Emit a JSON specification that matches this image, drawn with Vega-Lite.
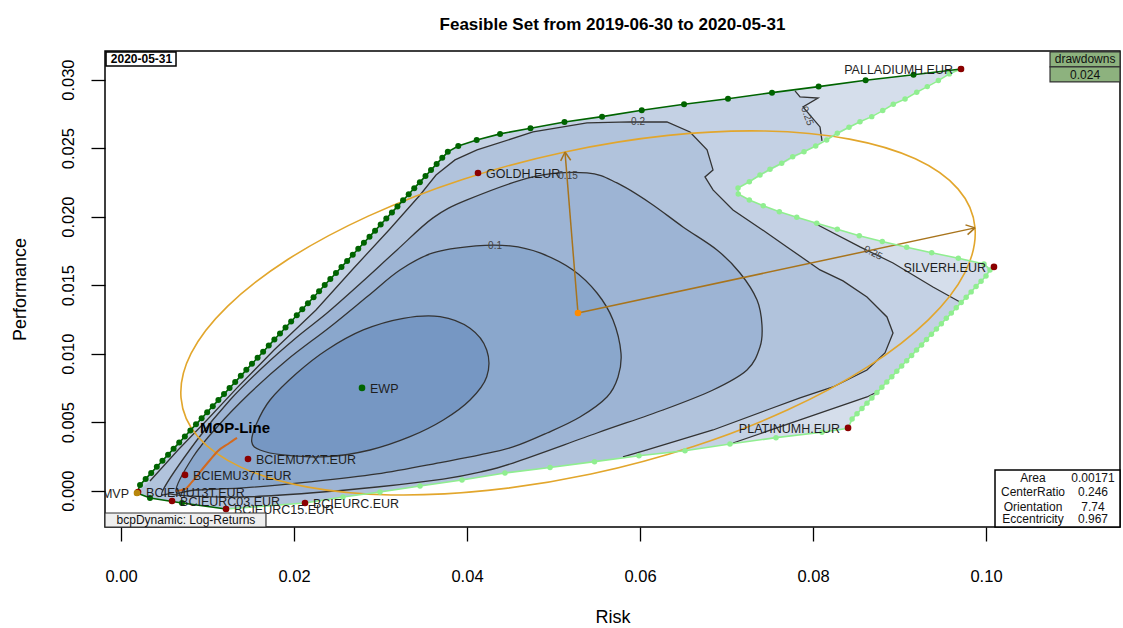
{
"$schema":"https://vega.github.io/schema/vega-lite/v6.json",
"width":1015,"height":476,
"autosize":{"type":"none"},
"padding":{"left":105,"top":51,"right":3,"bottom":101},
"background":"white",
"title":{"text":"Feasible Set from 2019-06-30 to 2020-05-31","font":"Liberation Sans","fontSize":17,"fontWeight":"bold","color":"#000","anchor":"middle","frame":"group","offset":17},
"config":{"view":{"stroke":"#000","strokeWidth":1.5},"font":"Liberation Sans"},
"datasets":{
"feas":[{"x":0.00185,"y":-0.00017},{"x":0.00220,"y":0.00042},{"x":0.03777,"y":0.02470},{"x":0.03899,"y":0.02516},{"x":0.04112,"y":0.02560},{"x":0.04382,"y":0.02604},{"x":0.04734,"y":0.02645},{"x":0.05127,"y":0.02691},{"x":0.05561,"y":0.02730},{"x":0.06020,"y":0.02777},{"x":0.06509,"y":0.02820},{"x":0.07017,"y":0.02861},{"x":0.07526,"y":0.02905},{"x":0.08065,"y":0.02949},{"x":0.08608,"y":0.02996},{"x":0.09162,"y":0.03036},{"x":0.09711,"y":0.03078},{"x":0.09576,"y":0.03042},{"x":0.07133,"y":0.02209},{"x":0.07136,"y":0.02166},{"x":0.07264,"y":0.02122},{"x":0.07425,"y":0.02080},{"x":0.07611,"y":0.02036},{"x":0.07812,"y":0.01996},{"x":0.08043,"y":0.01952},{"x":0.08281,"y":0.01908},{"x":0.08535,"y":0.01861},{"x":0.08801,"y":0.01818},{"x":0.09083,"y":0.01777},{"x":0.09372,"y":0.01737},{"x":0.09680,"y":0.01696},{"x":0.09977,"y":0.01655},{"x":0.10069,"y":0.01618},{"x":0.10000,"y":0.01567},{"x":0.08452,"y":0.00523},{"x":0.08405,"y":0.00455},{"x":0.08104,"y":0.00426},{"x":0.07572,"y":0.00387},{"x":0.07040,"y":0.00341},{"x":0.06520,"y":0.00292},{"x":0.05988,"y":0.00255},{"x":0.05474,"y":0.00212},{"x":0.04960,"y":0.00169},{"x":0.04439,"y":0.00129},{"x":0.03942,"y":0.00078},{"x":0.03457,"y":0.00034},{"x":0.02994,"y":-0.00009},{"x":0.02566,"y":-0.00046},{"x":0.02127,"y":-0.00090},{"x":0.01214,"y":-0.00134},{"x":0.00705,"y":-0.00090},{"x":0.00335,"y":-0.00053}],
"c25":[{"x":0.00185,"y":-0.00017},{"x":0.00220,"y":0.00042},{"x":0.03777,"y":0.02470},{"x":0.03899,"y":0.02516},{"x":0.04112,"y":0.02560},{"x":0.04382,"y":0.02604},{"x":0.04734,"y":0.02645},{"x":0.05127,"y":0.02691},{"x":0.05561,"y":0.02730},{"x":0.06020,"y":0.02777},{"x":0.06509,"y":0.02820},{"x":0.07017,"y":0.02861},{"x":0.07526,"y":0.02905},{"x":0.07792,"y":0.02918},{"x":0.07850,"y":0.02874},{"x":0.08058,"y":0.02866},{"x":0.07884,"y":0.02801},{"x":0.08081,"y":0.02655},{"x":0.08104,"y":0.02553},{"x":0.08031,"y":0.02516},{"x":0.07896,"y":0.02474},{"x":0.07765,"y":0.02438},{"x":0.07638,"y":0.02390},{"x":0.07503,"y":0.02346},{"x":0.07387,"y":0.02304},{"x":0.07264,"y":0.02255},{"x":0.07133,"y":0.02209},{"x":0.07136,"y":0.02166},{"x":0.07264,"y":0.02122},{"x":0.07425,"y":0.02080},{"x":0.07611,"y":0.02036},{"x":0.07812,"y":0.01996},{"x":0.08012,"y":0.01954},{"x":0.08543,"y":0.01779},{"x":0.08925,"y":0.01662},{"x":0.09387,"y":0.01487},{"x":0.09699,"y":0.01377},{"x":0.08740,"y":0.00720},{"x":0.08624,"y":0.00684},{"x":0.07850,"y":0.00516},{"x":0.07075,"y":0.00348},{"x":0.06520,"y":0.00292},{"x":0.05988,"y":0.00255},{"x":0.05474,"y":0.00212},{"x":0.04960,"y":0.00169},{"x":0.04439,"y":0.00129},{"x":0.03942,"y":0.00078},{"x":0.03457,"y":0.00034},{"x":0.02994,"y":-0.00009},{"x":0.02566,"y":-0.00046},{"x":0.02127,"y":-0.00090},{"x":0.01214,"y":-0.00134},{"x":0.00705,"y":-0.00090},{"x":0.00335,"y":-0.00053}],
"c20":[{"x":0.00185,"y":-0.00017},{"x":0.00335,"y":0.00071},{"x":0.00659,"y":0.00297},{"x":0.00994,"y":0.00516},{"x":0.01341,"y":0.00750},{"x":0.01769,"y":0.01027},{"x":0.02254,"y":0.01319},{"x":0.02671,"y":0.01611},{"x":0.03098,"y":0.01903},{"x":0.03457,"y":0.02158},{"x":0.03642,"y":0.02304},{"x":0.03861,"y":0.02414},{"x":0.04116,"y":0.02487},{"x":0.04763,"y":0.02618},{"x":0.05387,"y":0.02684},{"x":0.05884,"y":0.02691},{"x":0.06312,"y":0.02691},{"x":0.06578,"y":0.02618},{"x":0.06775,"y":0.02487},{"x":0.06844,"y":0.02341},{"x":0.06751,"y":0.02290},{"x":0.06844,"y":0.02195},{"x":0.07075,"y":0.02049},{"x":0.07468,"y":0.01881},{"x":0.07699,"y":0.01779},{"x":0.08081,"y":0.01611},{"x":0.08347,"y":0.01531},{"x":0.08624,"y":0.01414},{"x":0.08855,"y":0.01268},{"x":0.08925,"y":0.01151},{"x":0.08832,"y":0.01005},{"x":0.08624,"y":0.00881},{"x":0.08231,"y":0.00757},{"x":0.07850,"y":0.00677},{"x":0.07468,"y":0.00589},{"x":0.06844,"y":0.00443},{"x":0.06081,"y":0.00297},{"x":0.05803,"y":0.00246},{"x":0.05474,"y":0.00212},{"x":0.04960,"y":0.00169},{"x":0.04439,"y":0.00129},{"x":0.03942,"y":0.00078},{"x":0.03457,"y":0.00034},{"x":0.02994,"y":-0.00009},{"x":0.02566,"y":-0.00046},{"x":0.02127,"y":-0.00090},{"x":0.01214,"y":-0.00134},{"x":0.00705,"y":-0.00090},{"x":0.00335,"y":-0.00053}],
"c15":[{"x":0.00486,"y":0.00005},{"x":0.00879,"y":0.00370},{"x":0.01260,"y":0.00662},{"x":0.01642,"y":0.00903},{"x":0.02035,"y":0.01122},{"x":0.02382,"y":0.01297},{"x":0.02786,"y":0.01523},{"x":0.03191,"y":0.01757},{"x":0.03607,"y":0.01991},{"x":0.04000,"y":0.02122},{"x":0.04763,"y":0.02290},{"x":0.05387,"y":0.02319},{"x":0.05734,"y":0.02246},{"x":0.06116,"y":0.02100},{"x":0.06497,"y":0.01925},{"x":0.06890,"y":0.01757},{"x":0.07156,"y":0.01589},{"x":0.07353,"y":0.01392},{"x":0.07410,"y":0.01209},{"x":0.07387,"y":0.01049},{"x":0.07237,"y":0.00881},{"x":0.06844,"y":0.00735},{"x":0.06266,"y":0.00589},{"x":0.05503,"y":0.00421},{"x":0.04532,"y":0.00202},{"x":0.04150,"y":0.00136},{"x":0.03723,"y":0.00085},{"x":0.02960,"y":0.00027},{"x":0.02185,"y":-0.00017},{"x":0.01410,"y":-0.00046},{"x":0.00798,"y":-0.00039},{"x":0.00566,"y":-0.00024}],
"c10":[{"x":0.00636,"y":-0.00002},{"x":0.00832,"y":0.00246},{"x":0.01110,"y":0.00465},{"x":0.01491,"y":0.00713},{"x":0.01919,"y":0.00954},{"x":0.02416,"y":0.01195},{"x":0.02855,"y":0.01421},{"x":0.03225,"y":0.01611},{"x":0.03607,"y":0.01735},{"x":0.04104,"y":0.01786},{"x":0.04497,"y":0.01786},{"x":0.04844,"y":0.01735},{"x":0.05225,"y":0.01611},{"x":0.05503,"y":0.01443},{"x":0.05688,"y":0.01246},{"x":0.05780,"y":0.01005},{"x":0.05746,"y":0.00830},{"x":0.05618,"y":0.00684},{"x":0.05306,"y":0.00538},{"x":0.04925,"y":0.00421},{"x":0.04532,"y":0.00319},{"x":0.04150,"y":0.00261},{"x":0.03723,"y":0.00209},{"x":0.02960,"y":0.00122},{"x":0.02185,"y":0.00064},{"x":0.01410,"y":0.00020},{"x":0.00855,"y":0.00005}],
"c05":[{"x":0.01511,"y":0.00358},{"x":0.01569,"y":0.00492},{"x":0.01723,"y":0.00662},{"x":0.02031,"y":0.00857},{"x":0.02378,"y":0.01027},{"x":0.02801,"y":0.01173},{"x":0.03264,"y":0.01258},{"x":0.03688,"y":0.01270},{"x":0.04035,"y":0.01185},{"x":0.04228,"y":0.01027},{"x":0.04228,"y":0.00832},{"x":0.04035,"y":0.00662},{"x":0.03726,"y":0.00516},{"x":0.03341,"y":0.00394},{"x":0.02879,"y":0.00297},{"x":0.02378,"y":0.00248},{"x":0.01876,"y":0.00261},{"x":0.01607,"y":0.00297}],
"clines":[{"g":"a","x":0.07792,"y":0.02918},{"g":"a","x":0.07850,"y":0.02874},{"g":"a","x":0.08058,"y":0.02866},{"g":"a","x":0.07884,"y":0.02801},{"g":"a","x":0.08081,"y":0.02655},{"g":"a","x":0.08104,"y":0.02553},
{"g":"b","x":0.08012,"y":0.01954},{"g":"b","x":0.08543,"y":0.01779},{"g":"b","x":0.08925,"y":0.01662},{"g":"b","x":0.09387,"y":0.01487},{"g":"b","x":0.09699,"y":0.01377},
{"g":"c","x":0.07075,"y":0.00348},{"g":"c","x":0.07850,"y":0.00516},{"g":"c","x":0.08624,"y":0.00684},{"g":"c","x":0.08740,"y":0.00720},
{"g":"d","x":0.00335,"y":0.00071},{"g":"d","x":0.00659,"y":0.00297},{"g":"d","x":0.00994,"y":0.00516},{"g":"d","x":0.01341,"y":0.00750},{"g":"d","x":0.01769,"y":0.01027},{"g":"d","x":0.02254,"y":0.01319},{"g":"d","x":0.02671,"y":0.01611},{"g":"d","x":0.03098,"y":0.01903},{"g":"d","x":0.03457,"y":0.02158},{"g":"d","x":0.03642,"y":0.02304},{"g":"d","x":0.03861,"y":0.02414},{"g":"d","x":0.04116,"y":0.02487},{"g":"d","x":0.04763,"y":0.02618},{"g":"d","x":0.05387,"y":0.02684},{"g":"d","x":0.05884,"y":0.02691},{"g":"d","x":0.06312,"y":0.02691},{"g":"d","x":0.06578,"y":0.02618},{"g":"d","x":0.06775,"y":0.02487},{"g":"d","x":0.06844,"y":0.02341},{"g":"d","x":0.06751,"y":0.02290},{"g":"d","x":0.06844,"y":0.02195},{"g":"d","x":0.07075,"y":0.02049},{"g":"d","x":0.07468,"y":0.01881},{"g":"d","x":0.07699,"y":0.01779},{"g":"d","x":0.08081,"y":0.01611},{"g":"d","x":0.08347,"y":0.01531},{"g":"d","x":0.08624,"y":0.01414},{"g":"d","x":0.08855,"y":0.01268},{"g":"d","x":0.08925,"y":0.01151},{"g":"d","x":0.08832,"y":0.01005},{"g":"d","x":0.08624,"y":0.00881},{"g":"d","x":0.08231,"y":0.00757},{"g":"d","x":0.07850,"y":0.00677},{"g":"d","x":0.07468,"y":0.00589},{"g":"d","x":0.06844,"y":0.00443},{"g":"d","x":0.06081,"y":0.00297},{"g":"d","x":0.05803,"y":0.00246}],
"ell":[{"x":0.09873,"y":0.01918},{"x":0.09678,"y":0.02201},{"x":0.09183,"y":0.02422},{"x":0.08422,"y":0.02566},{"x":0.07447,"y":0.02625},{"x":0.06326,"y":0.02593},{"x":0.05133,"y":0.02472},{"x":0.03949,"y":0.02272},{"x":0.02858,"y":0.02004},{"x":0.01932,"y":0.01689},{"x":0.01234,"y":0.01347},{"x":0.00810,"y":0.01002},{"x":0.00694,"y":0.00677},{"x":0.00889,"y":0.00393},{"x":0.01384,"y":0.00172},{"x":0.02145,"y":0.00028},{"x":0.03119,"y":-0.00031},{"x":0.04240,"y":0.00002},{"x":0.05434,"y":0.00122},{"x":0.06617,"y":0.00323},{"x":0.07709,"y":0.00590},{"x":0.08635,"y":0.00905},{"x":0.09333,"y":0.01247},{"x":0.09756,"y":0.01592}],
"arr":[{"x":0.05283,"y":0.01297,"x2":0.09873,"y2":0.01918},{"x":0.05283,"y":0.01297,"x2":0.05133,"y2":0.02472},{"x":0.09873,"y":0.01918,"x2":0.09763,"y2":0.01940},{"x":0.09873,"y":0.01918,"x2":0.09787,"y2":0.01869},{"x":0.05133,"y":0.02472,"x2":0.05083,"y2":0.02407},{"x":0.05133,"y":0.02472,"x2":0.05199,"y2":0.02412}],
"mop":[{"x":0.00636,"y":-0.00002},{"x":0.00740,"y":0.00012},{"x":0.00821,"y":0.00064},{"x":0.00913,"y":0.00136},{"x":0.01029,"y":0.00224},{"x":0.01121,"y":0.00290},{"x":0.01237,"y":0.00341},{"x":0.01341,"y":0.00385}],
"lg":[{"x":0.09711,"y":0.03078},{"x":0.09576,"y":0.03042},{"x":0.09449,"y":0.02993},{"x":0.09321,"y":0.02949},{"x":0.09199,"y":0.02908},{"x":0.09064,"y":0.02859},{"x":0.08928,"y":0.02820},{"x":0.08806,"y":0.02774},{"x":0.08679,"y":0.02730},{"x":0.08543,"y":0.02693},{"x":0.08416,"y":0.02653},{"x":0.08281,"y":0.02609},{"x":0.08158,"y":0.02560},{"x":0.08031,"y":0.02516},{"x":0.07896,"y":0.02474},{"x":0.07765,"y":0.02438},{"x":0.07638,"y":0.02390},{"x":0.07503,"y":0.02346},{"x":0.07387,"y":0.02304},{"x":0.07264,"y":0.02255},{"x":0.07133,"y":0.02209},
{"x":0.07136,"y":0.02166},{"x":0.07264,"y":0.02122},{"x":0.07425,"y":0.02080},{"x":0.07611,"y":0.02036},{"x":0.07812,"y":0.01996},{"x":0.08043,"y":0.01952},{"x":0.08281,"y":0.01908},{"x":0.08535,"y":0.01861},{"x":0.08801,"y":0.01818},{"x":0.09083,"y":0.01777},{"x":0.09372,"y":0.01737},{"x":0.09680,"y":0.01696},{"x":0.09977,"y":0.01655},{"x":0.10046,"y":0.01611},
{"x":0.10000,"y":0.01567},{"x":0.09943,"y":0.01529},{"x":0.09885,"y":0.01490},{"x":0.09828,"y":0.01451},{"x":0.09771,"y":0.01412},{"x":0.09713,"y":0.01374},{"x":0.09656,"y":0.01335},{"x":0.09599,"y":0.01296},{"x":0.09541,"y":0.01258},{"x":0.09484,"y":0.01219},{"x":0.09427,"y":0.01180},{"x":0.09369,"y":0.01142},{"x":0.09312,"y":0.01103},{"x":0.09255,"y":0.01064},{"x":0.09197,"y":0.01026},{"x":0.09140,"y":0.00987},{"x":0.09083,"y":0.00948},{"x":0.09025,"y":0.00910},{"x":0.08968,"y":0.00871},{"x":0.08911,"y":0.00832},{"x":0.08853,"y":0.00793},{"x":0.08796,"y":0.00755},{"x":0.08739,"y":0.00716},{"x":0.08681,"y":0.00677},{"x":0.08624,"y":0.00639},{"x":0.08566,"y":0.00600},{"x":0.08509,"y":0.00561},{"x":0.08452,"y":0.00523},
{"x":0.08405,"y":0.00455},{"x":0.08104,"y":0.00426},{"x":0.07572,"y":0.00387},{"x":0.07040,"y":0.00341},{"x":0.06520,"y":0.00292},{"x":0.05988,"y":0.00255},{"x":0.05474,"y":0.00212},{"x":0.04960,"y":0.00169},{"x":0.04439,"y":0.00129},{"x":0.03942,"y":0.00078},{"x":0.03457,"y":0.00034},{"x":0.02994,"y":-0.00009},{"x":0.02566,"y":-0.00046},{"x":0.02127,"y":-0.00090},{"x":0.01214,"y":-0.00134}],
"dg":[{"x":0.01214,"y":-0.00134},{"x":0.00705,"y":-0.00090},{"x":0.00335,"y":-0.00053},{"x":0.00185,"y":-0.00017},
{"x":0.00220,"y":0.00042},{"x":0.00285,"y":0.00086},{"x":0.00349,"y":0.00130},{"x":0.00414,"y":0.00175},{"x":0.00479,"y":0.00219},{"x":0.00544,"y":0.00263},{"x":0.00608,"y":0.00307},{"x":0.00673,"y":0.00351},{"x":0.00738,"y":0.00396},{"x":0.00802,"y":0.00440},{"x":0.00867,"y":0.00484},{"x":0.00932,"y":0.00528},{"x":0.00996,"y":0.00572},{"x":0.01061,"y":0.00617},{"x":0.01126,"y":0.00661},{"x":0.01191,"y":0.00705},{"x":0.01255,"y":0.00749},{"x":0.01320,"y":0.00793},{"x":0.01385,"y":0.00838},{"x":0.01449,"y":0.00882},{"x":0.01514,"y":0.00926},{"x":0.01579,"y":0.00970},{"x":0.01643,"y":0.01014},{"x":0.01708,"y":0.01059},{"x":0.01773,"y":0.01103},{"x":0.01838,"y":0.01147},{"x":0.01902,"y":0.01191},{"x":0.01967,"y":0.01235},{"x":0.02032,"y":0.01280},{"x":0.02096,"y":0.01324},{"x":0.02161,"y":0.01368},{"x":0.02226,"y":0.01412},{"x":0.02290,"y":0.01456},{"x":0.02355,"y":0.01501},{"x":0.02420,"y":0.01545},{"x":0.02485,"y":0.01589},{"x":0.02549,"y":0.01633},{"x":0.02614,"y":0.01677},{"x":0.02679,"y":0.01722},{"x":0.02743,"y":0.01766},{"x":0.02808,"y":0.01810},{"x":0.02873,"y":0.01854},{"x":0.02937,"y":0.01898},{"x":0.03002,"y":0.01943},{"x":0.03067,"y":0.01987},{"x":0.03132,"y":0.02031},{"x":0.03196,"y":0.02075},{"x":0.03261,"y":0.02119},{"x":0.03326,"y":0.02164},{"x":0.03390,"y":0.02208},{"x":0.03455,"y":0.02252},{"x":0.03520,"y":0.02296},{"x":0.03584,"y":0.02340},{"x":0.03649,"y":0.02385},{"x":0.03714,"y":0.02429},{"x":0.03778,"y":0.02473},
{"x":0.03899,"y":0.02516},{"x":0.04112,"y":0.02560},{"x":0.04382,"y":0.02604},{"x":0.04734,"y":0.02645},{"x":0.05127,"y":0.02691},{"x":0.05561,"y":0.02730},{"x":0.06020,"y":0.02777},{"x":0.06509,"y":0.02820},{"x":0.07017,"y":0.02861},{"x":0.07526,"y":0.02905},{"x":0.08065,"y":0.02949},{"x":0.08608,"y":0.02996},{"x":0.09162,"y":0.03036},{"x":0.09711,"y":0.03078}],
"pts":[{"name":"BCIEMU13T.EUR","kind":"asset","x":0.00197,"y":-0.00010},{"name":"PALLADIUMH.EUR","kind":"asset","x":0.09711,"y":0.03078},{"name":"SILVERH.EUR","kind":"asset","x":0.10092,"y":0.01633},{"name":"PLATINUMH.EUR","kind":"asset","x":0.08405,"y":0.00458},{"name":"GOLDH.EUR","kind":"asset","x":0.04127,"y":0.02319},{"name":"BCIEMU7XT.EUR","kind":"asset","x":0.01468,"y":0.00231},{"name":"BCIEMU37T.EUR","kind":"asset","x":0.00740,"y":0.00115},{"name":"BCIEURC03.EUR","kind":"asset","x":0.00590,"y":-0.00075},{"name":"BCIEURC15.EUR","kind":"asset","x":0.01214,"y":-0.00134},{"name":"BCIEURC.EUR","kind":"asset","x":0.02127,"y":-0.00090},{"name":"EWP","kind":"ewp","x":0.02786,"y":0.00750},{"name":"MVP","kind":"mvp","x":0.00185,"y":-0.00017},{"name":"center","kind":"center","x":0.05283,"y":0.01297}],
"boxes":[{"b":"date","x":-0.00173,"x2":0.00636,"y":0.03202,"y2":0.03100},{"b":"dd1","x":0.10740,"x2":0.11549,"y":0.03202,"y2":0.03093},{"b":"dd2","x":0.10740,"x2":0.11549,"y":0.03093,"y2":0.02983},{"b":"src","x":-0.00185,"x2":0.01676,"y":-0.00163,"y2":-0.00265},{"b":"stats","x":0.10104,"x2":0.11549,"y":0.00151,"y2":-0.00265}],
"ann":[{"t":"drawdowns","x":0.11145,"y":0.03147},{"t":"0.024","x":0.11145,"y":0.03036},{"t":"bcpDynamic: Log-Returns","x":0.00751,"y":-0.00214},{"t":"Area","x":0.10543,"y":0.00091},{"t":"CenterRatio","x":0.10543,"y":-0.00012},{"t":"Orientation","x":0.10543,"y":-0.00117},{"t":"Eccentricity","x":0.10543,"y":-0.00209},{"t":"0.00171","x":0.11237,"y":0.00091},{"t":"0.246","x":0.11237,"y":-0.00012},{"t":"7.74","x":0.11237,"y":-0.00117},{"t":"0.967","x":0.11237,"y":-0.00209}]
},
"encoding":{
"x":{"field":"x","type":"quantitative","scale":{"domain":[-0.00185,0.11549],"nice":false,"zero":false},
"axis":{"title":"Risk","values":[0,0.02,0.04,0.06,0.08,0.1],"format":".2f","grid":false,"domain":false,"tickColor":"#000","tickSize":14,"tickWidth":1.3,"labelFont":"Liberation Sans","labelFontSize":16.5,"labelColor":"#000","labelPadding":27,"labelFlush":false,"titleFont":"Liberation Sans","titleFontSize":18,"titleFontWeight":"normal","titleColor":"#000","titlePadding":24}},
"y":{"field":"y","type":"quantitative","scale":{"domain":[-0.00265,0.03209],"nice":false,"zero":false},
"axis":{"title":"Performance","values":[0,0.005,0.01,0.015,0.02,0.025,0.03],"format":".3f","grid":false,"domain":false,"tickColor":"#000","tickSize":14,"tickWidth":1.3,"labelAngle":-90,"labelAlign":"center","labelBaseline":"bottom","labelFont":"Liberation Sans","labelFontSize":16.5,"labelColor":"#000","labelPadding":15,"labelFlush":false,"titleFont":"Liberation Sans","titleFontSize":18,"titleFontWeight":"normal","titleColor":"#000","titlePadding":31}}
},
"layer":[
{"data":{"name":"feas"},"mark":{"type":"line","interpolate":"linear-closed","fill":"#D5DEEB","strokeOpacity":0},"encoding":{"order":{"value":null}}},
{"data":{"name":"c25"},"mark":{"type":"line","interpolate":"linear-closed","fill":"#C4D1E4","strokeOpacity":0},"encoding":{"order":{"value":null}}},
{"data":{"name":"c20"},"mark":{"type":"line","interpolate":"linear-closed","fill":"#B1C3DC","strokeOpacity":0},"encoding":{"order":{"value":null}}},
{"data":{"name":"c15"},"mark":{"type":"line","interpolate":"cardinal-closed","fill":"#9DB4D4","stroke":"#333333","strokeWidth":1.3},"encoding":{"order":{"value":null}}},
{"data":{"name":"c10"},"mark":{"type":"line","interpolate":"cardinal-closed","fill":"#8AA7CC","stroke":"#333333","strokeWidth":1.3},"encoding":{"order":{"value":null}}},
{"data":{"name":"c05"},"mark":{"type":"line","interpolate":"cardinal-closed","fill":"#7697C3","stroke":"#333333","strokeWidth":1.3},"encoding":{"order":{"value":null}}},
{"data":{"name":"clines"},"mark":{"type":"line","stroke":"#333333","strokeWidth":1.3},"encoding":{"detail":{"field":"g"},"order":{"value":null}}},
{"data":{"values":[{"x":0},{"x":0.02},{"x":0.04},{"x":0.06},{"x":0.08},{"x":0.1}]},"mark":{"type":"rule","color":"#AFAFAF","strokeDash":[2,4],"strokeWidth":1.2},"encoding":{"y":{"datum":-0.00265},"y2":{"datum":0.03209}}},
{"data":{"values":[{"y":0.005},{"y":0.01},{"y":0.015},{"y":0.02},{"y":0.025},{"y":0.03}]},"mark":{"type":"rule","color":"#AFAFAF","strokeDash":[2,4],"strokeWidth":1.2},"encoding":{"x":{"datum":-0.00185},"x2":{"datum":0.11549}}},
{"data":{"values":[{"y":0}]},"mark":{"type":"rule","color":"#B8B8B8","strokeWidth":2},"encoding":{"x":{"datum":-0.00185},"x2":{"datum":0.11549}}},
{"data":{"name":"ell"},"mark":{"type":"line","interpolate":"cardinal-closed","stroke":"#E2A62C","strokeWidth":1.6},"encoding":{"order":{"value":null}}},
{"data":{"name":"arr"},"mark":{"type":"rule","color":"#A8741C","strokeWidth":1.5},"encoding":{"x2":{"field":"x2"},"y2":{"field":"y2"}}},
{"data":{"name":"mop"},"mark":{"type":"line","interpolate":"monotone","stroke":"#D2691E","strokeWidth":2},"encoding":{"order":{"value":null}}},
{"data":{"name":"lg"},"mark":{"type":"line","stroke":"#90EE90","strokeWidth":1.6,"point":{"filled":true,"size":30,"color":"#90EE90"}},"encoding":{"order":{"value":null}}},
{"data":{"name":"dg"},"mark":{"type":"line","stroke":"#006400","strokeWidth":1.6,"point":{"filled":true,"size":36,"color":"#006400"}},"encoding":{"order":{"value":null}}},
{"data":{"name":"pts"},"mark":{"type":"point","filled":true,"opacity":1},"encoding":{"color":{"field":"kind","type":"nominal","scale":{"domain":["asset","ewp","mvp","center"],"range":["#8B0000","#006400","#B8860B","#FF8C00"]},"legend":null},"size":{"value":44}}},
{"data":{"name":"pts"},"transform":[{"filter":{"not":{"field":"name","oneOf":["PALLADIUMH.EUR","SILVERH.EUR","PLATINUMH.EUR","MVP","center"]}}}],"mark":{"type":"text","align":"left","baseline":"middle","dx":8,"dy":1,"font":"Liberation Sans","fontSize":12.5,"color":"#1E1E1E"},"encoding":{"text":{"field":"name"}}},
{"data":{"name":"pts"},"transform":[{"filter":{"field":"name","oneOf":["PALLADIUMH.EUR","SILVERH.EUR","PLATINUMH.EUR","MVP"]}}],"mark":{"type":"text","align":"right","baseline":"middle","dx":-8,"dy":1,"font":"Liberation Sans","fontSize":12.5,"color":"#1E1E1E","clip":true},"encoding":{"text":{"field":"name"}}},
{"data":{"values":[{"t":"MOP-Line","x":0.00913,"y":0.00458}]},"mark":{"type":"text","align":"left","baseline":"middle","font":"Liberation Sans","fontSize":15,"fontWeight":"bold","color":"#000"},"encoding":{"text":{"field":"t"}}},
{"data":{"values":[{"t":"0.2","x":0.05977,"y":0.02691},{"t":"0.15","x":0.05168,"y":0.02297},{"t":"0.1","x":0.04324,"y":0.01786}]},"mark":{"type":"text","align":"center","baseline":"middle","font":"Liberation Sans","fontSize":10,"color":"#444444"},"encoding":{"text":{"field":"t"}}},
{"data":{"values":[{"t":"0.25","x":0.08694,"y":0.01735}]},"mark":{"type":"text","align":"center","baseline":"middle","angle":28,"font":"Liberation Sans","fontSize":10,"color":"#444444"},"encoding":{"text":{"field":"t"}}},
{"data":{"values":[{"t":"0.25","x":0.07931,"y":0.02735}]},"mark":{"type":"text","align":"center","baseline":"middle","angle":70,"font":"Liberation Sans","fontSize":10,"color":"#444444"},"encoding":{"text":{"field":"t"}}},
{"data":{"name":"boxes"},"transform":[{"filter":{"field":"b","oneOf":["date","stats"]}}],"mark":{"type":"rect","fill":"white","stroke":"#000","strokeWidth":1.5},"encoding":{"x2":{"field":"x2"},"y2":{"field":"y2"}}},
{"data":{"name":"boxes"},"transform":[{"filter":{"field":"b","oneOf":["dd1","dd2"]}}],"mark":{"type":"rect","fill":"#8DB27E","stroke":"#333","strokeWidth":1.2},"encoding":{"x2":{"field":"x2"},"y2":{"field":"y2"}}},
{"data":{"name":"boxes"},"transform":[{"filter":{"field":"b","equal":"src"}}],"mark":{"type":"rect","fill":"#EFEFEF","stroke":"#333","strokeWidth":1.2},"encoding":{"x2":{"field":"x2"},"y2":{"field":"y2"}}},
{"data":{"name":"ann"},"mark":{"type":"text","align":"center","baseline":"middle","font":"Liberation Sans","fontSize":12,"color":"#111"},"encoding":{"text":{"field":"t"}}},
{"data":{"values":[{"t":"2020-05-31","x":0.00237,"y":0.03151}]},"mark":{"type":"text","align":"center","baseline":"middle","font":"Liberation Sans","fontSize":12,"fontWeight":"bold","color":"#000"},"encoding":{"text":{"field":"t"}}}
]
}
